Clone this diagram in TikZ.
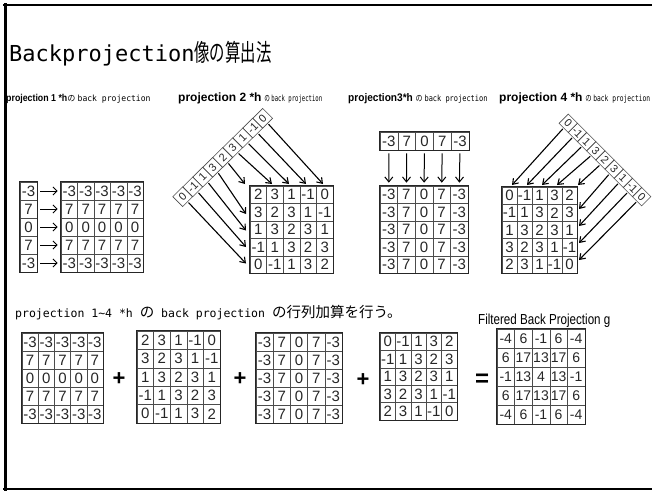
\documentclass[tikz,border=0pt]{standalone}
\usepackage{graphicx}
\usepackage{fontspec}
\setmainfont{Liberation Sans}
\newfontfamily\cjk{Noto Sans CJK JP}
\newfontfamily\mono{DejaVu Sans Mono}
\usetikzlibrary{arrows.meta}
\tikzset{
  cell/.style={draw=black!70, line width=0.6pt, inner sep=0pt, text=black!85},
  outerbox/.style={draw=black!85, line width=0.9pt},
  vcell/.style={draw=black!70, line width=0.6pt, inner sep=0pt, text=black!85, minimum size=#1, font=\fontsize{11}{11}\selectfont},
  harrow/.style={-{Straight Barb[length=4pt,width=8pt]}, line width=1pt, shorten <=3pt, shorten >=3pt},
  varrow/.style={-{Straight Barb[length=5pt,width=8pt]}, line width=1pt, shorten <=3pt, shorten >=3pt},
  darrow/.style={-{Straight Barb[length=5pt,width=7pt]}, line width=1.1pt, shorten <=1pt},
  opsign/.style={inner sep=0pt, font=\bfseries\fontsize{22}{22}\selectfont},
  lab/.style={anchor=base west, inner sep=0pt},
  frameline/.style={draw=black, line cap=rect},
}
\newcommand{\gridmat}[7]{%
  \foreach \rowvals [count=\ii] in {#7} {
    \foreach \val [count=\jj] in \rowvals {
      \node[cell, minimum width=#4pt, minimum height=#5pt, font=\fontsize{#6}{#6}\selectfont]
        (#1-\ii-\jj) at ({#2+(\jj-0.5)*#4},{#3+(\ii-0.5)*#5}) {\val};
    }
  }
  \draw[outerbox] (#1-1-1.north west) rectangle (#1-5-5.south east);
}
\newcommand{\smallpart}[1]{\scalebox{#1}[1]{\fontsize{8.5}{9}\selectfont{\cjk の} {\mono back projection}}}
\begin{document}
\begin{tikzpicture}[x=1pt,y=-1pt]
\useasboundingbox (0,0) rectangle (652,490);
\clip (0,0) rectangle (652,490);
% frame
\draw[frameline, line width=3pt] (5,4) -- (5,490);
\draw[frameline, line width=2pt] (4,5) -- (652,5);
\draw[frameline, line width=1.5pt] (4,489) -- (652,489);

% title
\node[lab] (title) at (9,61) {\mono\fontsize{22}{22}\selectfont Backprojection\cjk\fontsize{24}{24}\selectfont\scalebox{0.64}[1]{像の算出法}};

% panel labels
\node[lab] (lab1) at (6,101) {\scalebox{0.88}[1]{\bfseries\fontsize{10}{10}\selectfont projection 1 *h}\smallpart{0.95}};
\node[lab] (lab2) at (178,101) {\scalebox{1.0}[1]{\bfseries\fontsize{12}{12}\selectfont projection 2 *h} \smallpart{0.66}};
\node[lab] (lab3) at (348,101) {\scalebox{0.92}[1]{\bfseries\fontsize{11}{11}\selectfont projection3*h} \smallpart{0.82}};
\node[lab] (lab4) at (499,101) {\scalebox{1.0}[1]{\bfseries\fontsize{12}{12}\selectfont projection 4 *h} \smallpart{0.74}};

% ---------- panel 1
\foreach \v [count=\i] in {-3,7,0,7,-3}
  \node[cell, minimum width=17pt, minimum height=18pt, font=\fontsize{15}{15}\selectfont] (p1v-\i) at (28.5,{182+(\i-0.5)*18}) {\v};
\draw[outerbox] (p1v-1.north west) rectangle (p1v-5.south east);
\gridmat{p1m}{61}{182}{16.45}{18}{15}{{-3,-3,-3,-3,-3},{7,7,7,7,7},{0,0,0,0,0},{7,7,7,7,7},{-3,-3,-3,-3,-3}}
\foreach \i in {1,...,5}
  \draw[harrow] (p1v-\i) -- (p1m-\i-1);

% ---------- panel 2
\gridmat{p2m}{250}{186}{16.6}{17.5}{15}{{2,3,1,-1,0},{3,2,3,1,-1},{1,3,2,3,1},{-1,1,3,2,3},{0,-1,1,3,2}}
\foreach \v [count=\k from 0] in {0,-1,1,3,2,3,1,-1,0}
  \node[vcell=14pt, rotate=45] (p2v-\k) at ({182.7+10*\k},{196.7-9.8*\k}) {\v};
\foreach \k/\tx/\ty in {0/246/263.5,1/246/247,2/246/230.5,3/246/214,4/245/184,5/272/184,6/289/184,7/306/184,8/323/184}
  \coordinate (p2t-\k) at (\tx,\ty);
\foreach \k in {0,...,8}
  \draw[darrow] (p2v-\k.south) -- (p2t-\k);

% ---------- panel 3
\foreach \v [count=\j] in {-3,7,0,7,-3}
  \node[cell, minimum width=17.8pt, minimum height=18pt, font=\fontsize{15}{15}\selectfont] (p3v-\j) at ({380+(\j-0.5)*17.8},141) {\v};
\draw[outerbox] (p3v-1.north west) rectangle (p3v-5.south east);
\gridmat{p3m}{380}{186}{17.6}{17.5}{15}{{-3,7,0,7,-3},{-3,7,0,7,-3},{-3,7,0,7,-3},{-3,7,0,7,-3},{-3,7,0,7,-3}}
\foreach \j in {1,...,5}
  \draw[varrow] (p3v-\j) -- (p3m-1-\j);

% ---------- panel 4
\gridmat{p4m}{502}{187}{15}{17.2}{15}{{0,-1,1,3,2},{-1,1,3,2,3},{1,3,2,3,1},{3,2,3,1,-1},{2,3,1,-1,0}}
\foreach \v [count=\k from 0] in {0,-1,1,3,2,3,1,-1,0}
  \node[vcell=13pt, rotate=-45] (p4v-\k) at ({568.3+9.17*\k},{123.3+9.17*\k}) {\v};
\foreach \k/\tx/\ty in {0/512/185,1/527/185,2/542/185,3/557/185,4/578/185,5/579/209,6/579/226,7/579/243,8/579/260}
  \coordinate (p4t-\k) at (\tx,\ty);
\foreach \k in {0,...,8}
  \draw[darrow] (p4v-\k.south) -- (p4t-\k);

% ---------- bottom heading
\node[lab] (heading) at (15,317) {\mono\fontsize{11.5}{12}\selectfont projection 1\textasciitilde4 *h {\cjk\fontsize{14.5}{15}\selectfont の} back projection {\cjk\fontsize{14.5}{15}\selectfont の行列加算を行う。}};

% ---------- bottom row
\gridmat{bA}{22}{333}{16.2}{18}{15}{{-3,-3,-3,-3,-3},{7,7,7,7,7},{0,0,0,0,0},{7,7,7,7,7},{-3,-3,-3,-3,-3}}
\node[opsign] (plus1) at (119,379) {+};
\gridmat{bB}{137}{331}{16.6}{18.4}{15}{{2,3,1,-1,0},{3,2,3,1,-1},{1,3,2,3,1},{-1,1,3,2,3},{0,-1,1,3,2}}
\node[opsign] (plus2) at (240,379) {+};
\gridmat{bC}{256}{333}{17.2}{18}{15}{{-3,7,0,7,-3},{-3,7,0,7,-3},{-3,7,0,7,-3},{-3,7,0,7,-3},{-3,7,0,7,-3}}
\node[opsign] (plus3) at (363,380) {+};
\gridmat{bD}{380}{333}{15.4}{17.4}{15}{{0,-1,1,3,2},{-1,1,3,2,3},{1,3,2,3,1},{3,2,3,1,-1},{2,3,1,-1,0}}
\node[opsign, font=\bfseries\fontsize{24}{24}\selectfont] (eq) at (482,380) {=};
\node[lab] (fbplabel) at (478,324) {\scalebox{0.8}[1]{\fontsize{14.5}{14.5}\selectfont Filtered Back Projection g}};
\gridmat{bE}{497}{329}{17.6}{19}{14}{{-4,6,-1,6,-4},{6,17,13,17,6},{-1,13,4,13,-1},{6,17,13,17,6},{-4,6,-1,6,-4}}
\end{tikzpicture}
\end{document}
